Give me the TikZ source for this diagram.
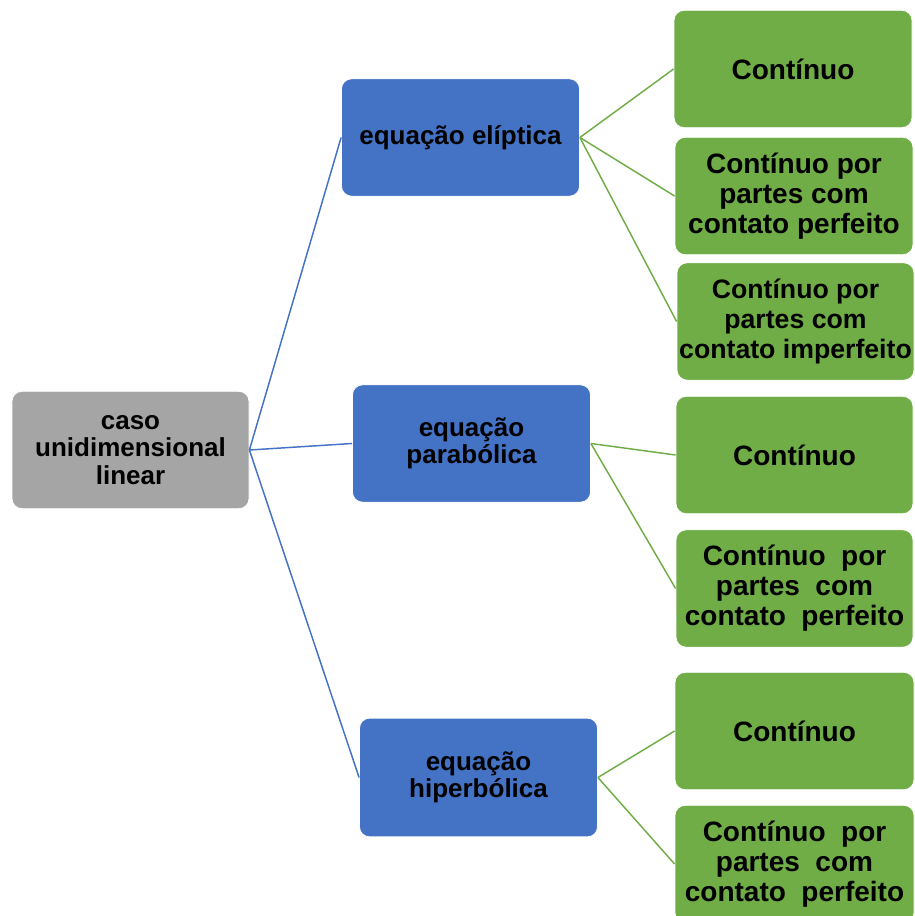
\documentclass[tikz,border=0pt]{standalone}
\usepackage{fontspec}
\setmainfont{Liberation Sans}
\definecolor{rootgray}{HTML}{A5A5A5}
\definecolor{eqblue}{HTML}{4472C4}
\definecolor{leafgreen}{HTML}{70AD47}
\begin{document}
\begin{tikzpicture}[x=0.75pt,y=-0.75pt,
  box/.style={rectangle, rounded corners=7.5pt, draw=white, line width=0.6pt, align=center, inner sep=0pt, font=\bfseries\fontsize{19.5}{20.5}\selectfont, text=black, minimum width=178.5pt, minimum height=88pt},
  rootbox/.style={box, fill=rootgray},
  eqbox/.style={box, fill=eqblue},
  leafbox/.style={box, fill=leafgreen, font=\bfseries\fontsize{21}{22.5}\selectfont},
  blueline/.style={draw=eqblue, line width=1.1pt},
  greenline/.style={draw=leafgreen, line width=1.1pt}]
\useasboundingbox (0,0) rectangle (914,916);
\clip (0,0) rectangle (914,916);
\node[rootbox, minimum width=177.75pt] (root) at (130.5,450) {caso\\unidimensional\\linear};
\node[eqbox] (b1) at (460.5,137.5) {equação elíptica};
\node[eqbox] (b2) at (471.5,443.5) {equação\\parabólica};
\node[eqbox, minimum height=89pt] (b3) at (478.5,777.5) {equação\\hiperbólica};
\node[leafbox] (g1) at (793,69) {Contínuo};
\node[leafbox] (g2) at (794,196) {Contínuo por\\partes com\\contato perfeito};
\node[leafbox, minimum width=177.75pt, font=\bfseries\fontsize{20}{22.5}\selectfont] (g3) at (795.5,321.5) {Contínuo por\\partes com\\contato imperfeito};
\node[leafbox, minimum width=177.75pt] (g4) at (794.5,455) {Contínuo};
\node[leafbox, minimum width=177.75pt] (g5) at (794.5,588.5) {Contínuo~ por\\partes~ com\\contato~ perfeito};
\node[leafbox, minimum width=179.25pt] (g6) at (794.5,731) {Contínuo};
\node[leafbox, minimum width=179.25pt] (g7) at (794.5,864) {Contínuo~ por\\partes~ com\\contato~ perfeito};
\draw[blueline] (root.east) -- (b1.west);
\draw[blueline] (root.east) -- (b2.west);
\draw[blueline] (root.east) -- (b3.west);
\draw[greenline] (b1.east) -- (g1.west);
\draw[greenline] (b1.east) -- (g2.west);
\draw[greenline] (b1.east) -- (g3.west);
\draw[greenline] (b2.east) -- (g4.west);
\draw[greenline] (b2.east) -- (g5.west);
\draw[greenline] (b3.east) -- (g6.west);
\draw[greenline] (b3.east) -- (g7.west);
\end{tikzpicture}
\end{document}
